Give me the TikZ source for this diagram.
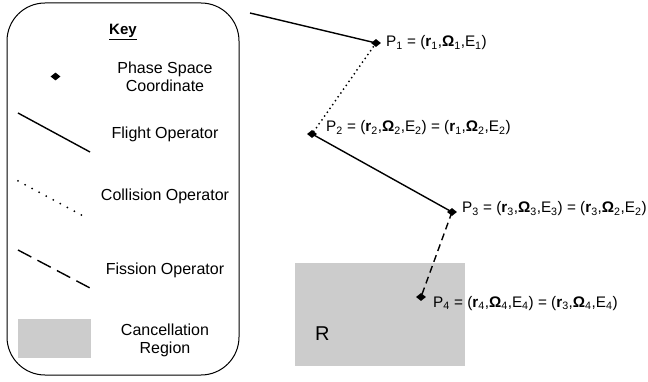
\documentclass[tikz,border=0pt]{standalone}
\usepackage{fontspec}
\setmainfont{Liberation Sans}
\usetikzlibrary{shapes.geometric}
\tikzset{
  pt/.style={diamond,fill=black,inner sep=0pt,minimum width=10pt,minimum height=8pt},
  keytext/.style={anchor=base,align=center,font=\fontsize{16}{18}\selectfont},
  lbl/.style={anchor=base west,inner sep=0pt,font=\fontsize{15.3}{17}\selectfont},
  region/.style={fill=black!20,draw=none}
}
\newcommand{\sub}[1]{\textsubscript{#1}}
\begin{document}
\begin{tikzpicture}[x=1pt,y=-1pt]
		\useasboundingbox (0,0) rectangle (648,382);
		\draw [line width=1pt,rounded corners=38pt] (7,3) rectangle (239,375);
		\node [anchor=base,font=\fontsize{15}{17}\selectfont\bfseries] (key) at (123,35) {\underline{Key}};
		\node [pt] (kp) at (55.5,76.5) {};
		\node [keytext] (kptext) at (165,92) {Phase Space\\Coordinate};
		\coordinate (kf1) at (18,113);
		\coordinate (kf2) at (90,152);
		\draw [line width=1.4pt] (kf1) -- (kf2);
		\node [keytext] (kftext) at (165,139) {Flight Operator};
		\coordinate (kc1) at (18,181);
		\coordinate (kc2) at (87,218);
		\draw [line width=2pt,line cap=round,dash pattern=on 0pt off 8pt] (kc1) -- (kc2);
		\node [keytext] (kctext) at (165,201) {Collision Operator};
		\coordinate (kd1) at (18,250);
		\coordinate (kd2) at (90,288);
		\draw [line width=1.4pt,dash pattern=on 15pt off 7pt] (kd1) -- (kd2);
		\node [keytext] (kdtext) at (165,274) {Fission Operator};
		\fill [region] (18,319) rectangle (91,358);
		\node [keytext] (krtext) at (165,353) {Cancellation\\Region};
		\fill [region] (295,263) rectangle (465,366);
		\node [anchor=base west,inner sep=0pt,font=\fontsize{20}{22}\selectfont] (rlabel) at (315,340) {R};
		\coordinate (start) at (250,13);
		\node [pt] (p1) at (376,43) {};
		\node [pt] (p2) at (312,134) {};
		\node [pt] (p3) at (452,212) {};
		\node [pt] (p4) at (421,297) {};
		\draw [line width=1.4pt] (start) -- (p1.center);
		\draw [line width=2pt,line cap=round,dash pattern=on 0pt off 4.7pt] (p1.center) -- (p2.center);
		\draw [line width=1.4pt] (p2.center) -- (p3.center);
		\draw [line width=1.4pt,dash pattern=on 7pt off 4.5pt] (p3.center) -- (p4.center);
		\node [lbl] (l1) at (386,47) {P\sub{1} = (\textbf{r}\sub{1},\textbf{Ω}\sub{1},E\sub{1})};
		\node [lbl] (l2) at (326,132) {P\sub{2} = (\textbf{r}\sub{2},\textbf{Ω}\sub{2},E\sub{2}) = (\textbf{r}\sub{1},\textbf{Ω}\sub{2},E\sub{2})};
		\node [lbl] (l3) at (462,213) {P\sub{3} = (\textbf{r}\sub{3},\textbf{Ω}\sub{3},E\sub{3}) = (\textbf{r}\sub{3},\textbf{Ω}\sub{2},E\sub{2})};
		\node [lbl] (l4) at (433,307) {P\sub{4} = (\textbf{r}\sub{4},\textbf{Ω}\sub{4},E\sub{4}) = (\textbf{r}\sub{3},\textbf{Ω}\sub{4},E\sub{4})};
\end{tikzpicture}
\end{document}
